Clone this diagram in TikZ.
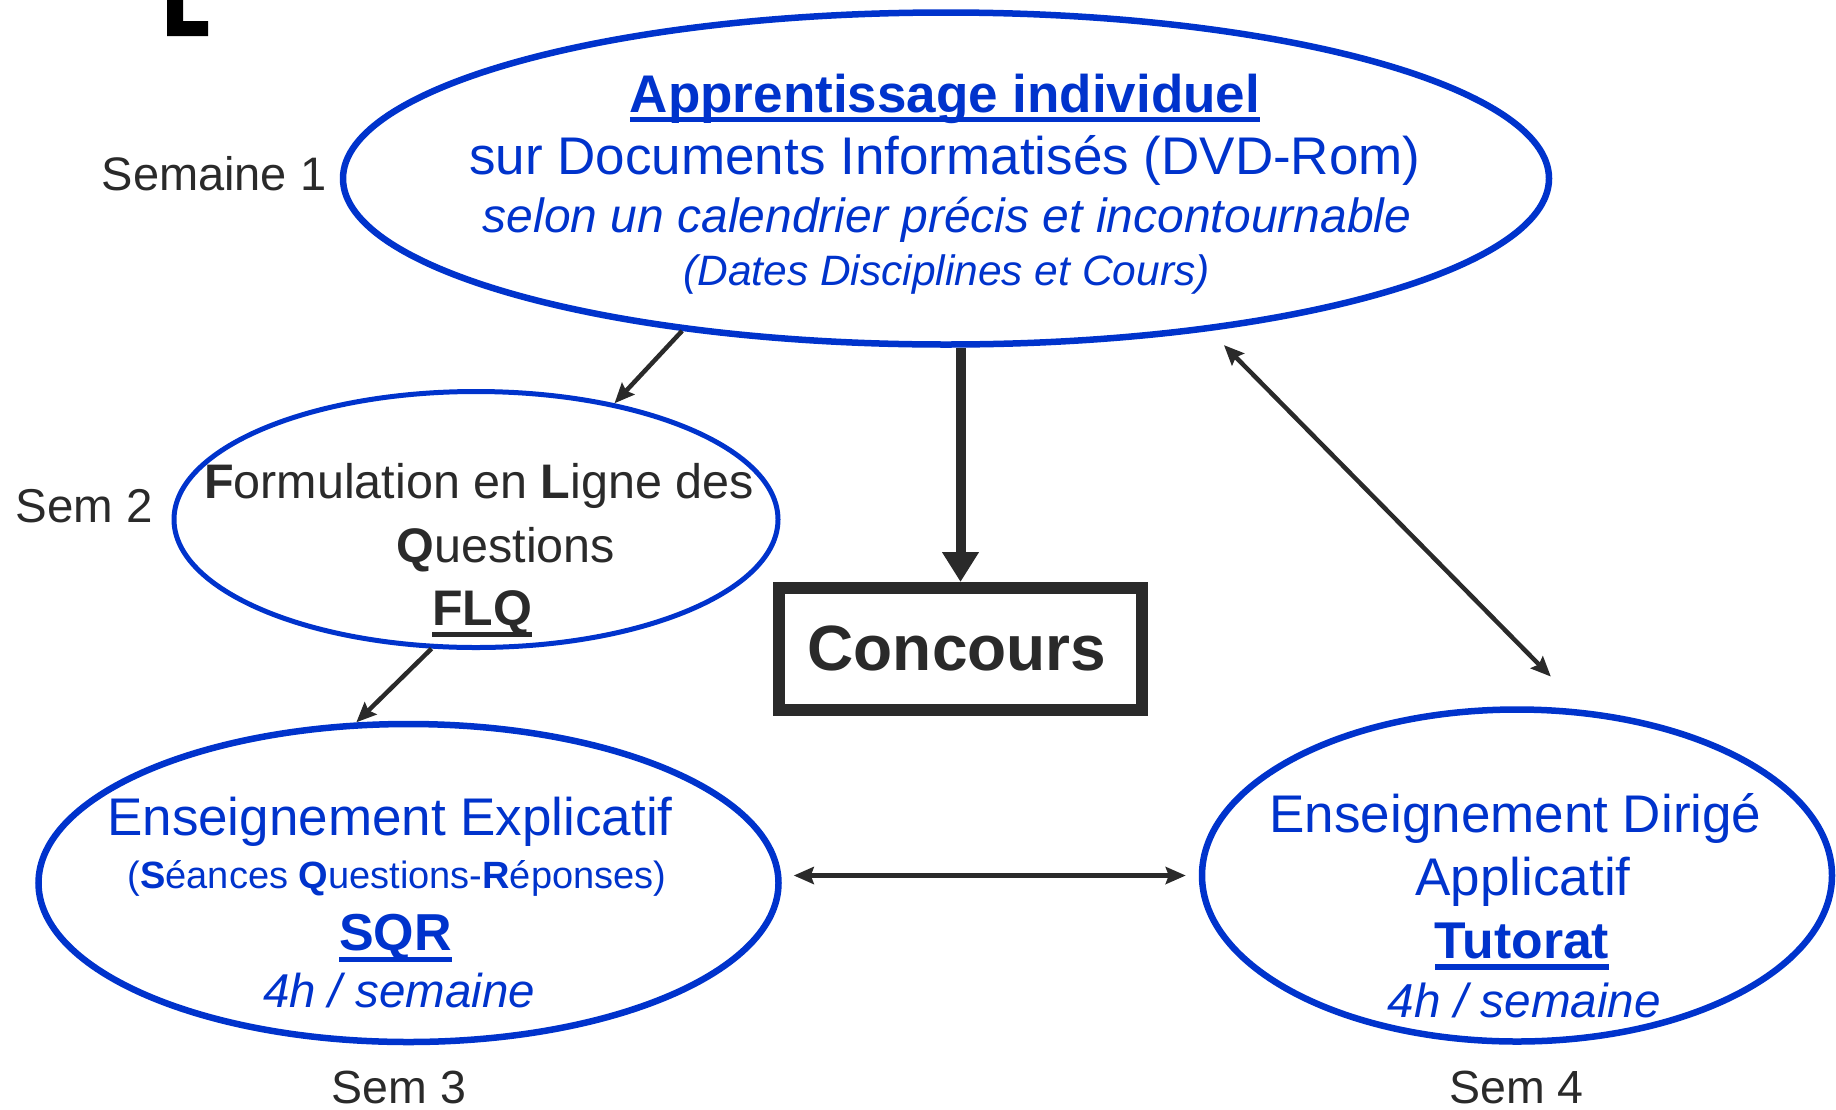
\documentclass[tikz,border=0pt]{standalone}
\usepackage{fontspec}
\setmainfont{Liberation Sans}
\usetikzlibrary{arrows.meta,shapes.geometric}
\definecolor{eblue}{RGB}{0,51,204}
\definecolor{dgray}{RGB}{42,42,42}
\newcommand\fsz[1]{\fontsize{#1}{#1}\selectfont}
\newcommand\ulbar[3]{\setbox0\hbox{#3}\rlap{\rule[-#1]{\wd0}{#2}}\box0}
\begin{document}
\begin{tikzpicture}[x=1pt,y=-1pt,
  txt/.style={anchor=base,inner sep=0pt,outer sep=0pt},
  btxt/.style={txt,text=eblue},
  gtxt/.style={txt,text=dgray},
  oval/.style={ellipse,draw=eblue,inner sep=0pt},
  thinhead/.style={Stealth[length=20pt,width=17pt,inset=3pt]},
  link/.style={draw=dgray,line width=4.5pt,-{Stealth[length=20pt,width=17pt,inset=3pt]}},
  twolink/.style={draw=dgray,line width=4.5pt,{Stealth[length=20pt,width=17pt,inset=3pt]}-{Stealth[length=20pt,width=17pt,inset=3pt]}},
  biglink/.style={draw=dgray,line width=10pt,-{Triangle[length=30pt,width=35pt]}}]
\useasboundingbox (0,0) rectangle (1836,1109);

% stray mark at top left
\fill[black] (167,0) -- (183,0) -- (183,21) -- (208,21) -- (208,36) -- (167,36) -- cycle;

% shapes
\node[oval,line width=6.5pt,minimum width=1206pt,minimum height=332pt] (top) at (946,178.5) {};
\node[oval,line width=5pt,minimum width=604pt,minimum height=256pt] (flq) at (476,519.5) {};
\node[oval,line width=6.5pt,minimum width=740pt,minimum height=318pt] (sqr) at (408.5,883) {};
\node[oval,line width=6.5pt,minimum width=630pt,minimum height=332pt] (tut) at (1517,875.5) {};
\node[draw=dgray,line width=12pt,minimum width=363pt,minimum height=122pt,inner sep=0pt] (box) at (960.5,649) {};

% top ellipse text
\node[btxt] (t1) at (945,112) {\fsz{53}\bfseries\ulbar{10pt}{5pt}{Apprentissage individuel}};
\node[btxt] (t2) at (945,174) {\fsz{53}sur Documents Informatisés (DVD-Rom)};
\node[btxt] (t3) at (947,232) {\fsz{48}\itshape selon un calendrier précis et incontournable};
\node[btxt] (t4) at (946.5,285) {\fsz{42.5}\itshape (Dates Disciplines et Cours)};

% FLQ text
\node[gtxt] (f1) at (479,498) {\fsz{48.5}\textbf{F}ormulation en \textbf{L}igne des};
\node[gtxt] (f2) at (506,562) {\fsz{48.5}\textbf{Q}uestions};
\node[gtxt] (f3) at (482,625) {\fsz{50}\bfseries\ulbar{12pt}{5pt}{FLQ}};

% Concours
\node[gtxt] (c1) at (957,670) {\fsz{64}\bfseries Concours};

% SQR text
\node[btxt] (s1) at (390,835) {\fsz{53}Enseignement Explicatif};
\node[btxt] (s2) at (397,888) {\fsz{38}(\textbf{S}éances \textbf{Q}uestions-\textbf{R}éponses)};
\node[btxt] (s3) at (395.5,950) {\fsz{52}\bfseries\ulbar{12pt}{5pt}{SQR}};
\node[btxt] (s4) at (399,1007) {\fsz{47.5}\itshape 4h / semaine};

% Tutorat text
\node[btxt] (u1) at (1515.5,832) {\fsz{53}Enseignement Dirigé};
\node[btxt] (u2) at (1523,895) {\fsz{53}Applicatif};
\node[btxt] (u3) at (1522,958) {\fsz{51.7}\bfseries\ulbar{12pt}{6pt}{Tutorat}};
\node[btxt] (u4) at (1524.5,1017) {\fsz{47.7}\itshape 4h / semaine};

% week labels
\node[gtxt] (w1) at (214,190) {\fsz{47}Semaine 1};
\node[gtxt] (w2) at (84.5,522) {\fsz{47.5}Sem 2};
\node[gtxt] (w3) at (399,1103) {\fsz{46.5}Sem 3};
\node[gtxt] (w4) at (1516.5,1103) {\fsz{46.5}Sem 4};

% connectors
\draw[link] (top.210.5) -- (flq.40);
\draw[link] (flq.251) -- (sqr.108);
\draw[biglink] (box.north |- top.south) -- (box.north);
\draw[twolink,shorten <=20pt,shorten >=47pt] (top.-30.6) -- (tut.68.3);
\draw[twolink,shorten <=12pt,shorten >=13pt] (sqr.east |- tut.west) -- (tut.west);
\end{tikzpicture}
\end{document}
